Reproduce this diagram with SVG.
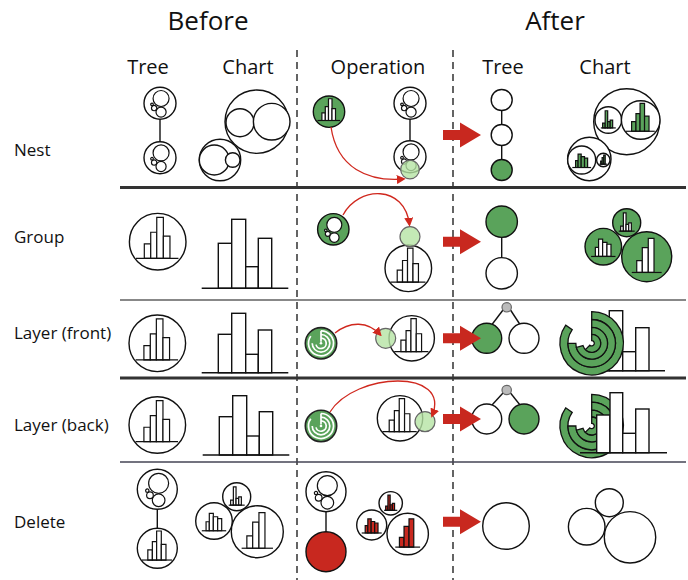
<svg xmlns="http://www.w3.org/2000/svg" width="688" height="580" viewBox="0 0 688 580">
<style>
text{font-family:"Open Sans","Liberation Sans",sans-serif;fill:#111}
.t1{font-size:26px;text-anchor:middle}
.t2{font-size:20px;text-anchor:middle}
.t3{font-size:17px}
.w{fill:#fff;stroke:#111;stroke-width:1.4}
.g{fill:#5aa35b;stroke:#111;stroke-width:1.4}
.rd{fill:#c8281f;stroke:#111;stroke-width:1.4}
.lg{fill:#b5e3a4;fill-opacity:.8;stroke:#666;stroke-width:1.2}
.gy{fill:#bbb;stroke:#666;stroke-width:1.2}
.ln{stroke:#111;stroke-width:1.4;fill:none}
.bar{fill:#fff;stroke:#111;stroke-width:1.4}
.arr{fill:#c8281f}
.cv{fill:none;stroke:#d0281e;stroke-width:1.3;marker-end:url(#ah)}
.dash{stroke:#111;stroke-width:1.3;stroke-dasharray:7 5}
.wa{fill:none;stroke:#fff;stroke-width:1.7}
</style>
<defs>
<marker id="ah" viewBox="0 0 10 10" refX="8" refY="5" markerWidth="9" markerHeight="9" markerUnits="userSpaceOnUse" orient="auto">
<path d="M0,0 L10,5 L0,10 z" fill="#d0281e"/>
</marker>
<g id="cA" stroke="#111" stroke-width="1.2">
<rect x="-14.2" y="2.4" width="6.8" height="15.2" vector-effect="non-scaling-stroke"/>
<rect x="-7.4" y="-10" width="6.4" height="27.6" vector-effect="non-scaling-stroke"/>
<rect x="-1" y="-25.9" width="7" height="43.5" vector-effect="non-scaling-stroke"/>
<rect x="6" y="-6" width="7" height="23.6" vector-effect="non-scaling-stroke"/>
<line x1="-23" y1="17.6" x2="22" y2="17.6" vector-effect="non-scaling-stroke"/>
</g>
<g id="cB" stroke="#111" stroke-width="1.2">
<rect x="-12" y="4.8" width="6.7" height="14.2" vector-effect="non-scaling-stroke"/>
<rect x="-5.3" y="-11" width="7.2" height="30" vector-effect="non-scaling-stroke"/>
<rect x="1.9" y="-22" width="6.9" height="41" vector-effect="non-scaling-stroke"/>
<line x1="-18" y1="19" x2="18" y2="19" vector-effect="non-scaling-stroke"/>
</g>
<g id="cC" stroke="#111" stroke-width="1.2">
<rect x="-13" y="1.2" width="5.3" height="14.8" vector-effect="non-scaling-stroke"/>
<rect x="-7.7" y="-12.4" width="6.6" height="28.4" vector-effect="non-scaling-stroke"/>
<rect x="-1.1" y="-7" width="7.1" height="23" vector-effect="non-scaling-stroke"/>
<rect x="6" y="-4" width="6.6" height="20" vector-effect="non-scaling-stroke"/>
<line x1="-20" y1="16" x2="20" y2="16" vector-effect="non-scaling-stroke"/>
</g>
<g id="cD" stroke="#111" stroke-width="1.2">
<rect x="-12.9" y="7.3" width="5.8" height="10.7" vector-effect="non-scaling-stroke"/>
<rect x="-7.1" y="-21" width="5.7" height="39" vector-effect="non-scaling-stroke"/>
<rect x="-1.4" y="3.7" width="5.7" height="14.3" vector-effect="non-scaling-stroke"/>
<rect x="4.3" y="0.2" width="5.6" height="17.8" vector-effect="non-scaling-stroke"/>
<line x1="-17" y1="18" x2="17" y2="18" vector-effect="non-scaling-stroke"/>
</g>
<g id="cp" fill="#fff" stroke="#111" stroke-width="1.2">
<circle cx="2" cy="-9" r="15" vector-effect="non-scaling-stroke"/>
<circle cx="2" cy="16.5" r="9.5" vector-effect="non-scaling-stroke"/>
<circle cx="-11" cy="9" r="5" vector-effect="non-scaling-stroke"/>
<circle cx="-15" cy="2" r="2.5" vector-effect="non-scaling-stroke"/>
</g>
<g id="sb" fill="#5aa35b" stroke="#111" stroke-width="1.3">
<path d="M 0 -30 A 30 30 0 1 1 -24.57 -17.21 L -18.43 -12.91 A 22.5 22.5 0 1 0 0 -22.5 Z" vector-effect="non-scaling-stroke"/>
<path d="M 0 -22.5 A 22.5 22.5 0 1 1 -22.5 0 L -15 0 A 15 15 0 1 0 0 -15 Z" vector-effect="non-scaling-stroke"/>
<path d="M 0 -15 A 15 15 0 1 1 -14.49 3.88 L -8.21 2.2 A 8.5 8.5 0 1 0 0 -8.5 Z" vector-effect="non-scaling-stroke"/>
<path d="M 0 -8.5 A 8.5 8.5 0 1 1 -6.01 6.01 L -1.77 1.77 A 2.5 2.5 0 1 0 0 -2.5 Z" vector-effect="non-scaling-stroke"/>
</g>
<g id="msb">
<circle r="15.7" fill="#5aa35b" stroke="#222" stroke-width="1.6"/>
<path class="wa" d="M 0 -12.5 A 12.5 12.5 0 1 1 -10.24 -7.17"/>
<path class="wa" d="M 0 -8.8 A 8.8 8.8 0 1 1 -8.8 0"/>
<path class="wa" d="M 0 -5.2 A 5.2 5.2 0 1 1 -5.02 1.35"/>
<path class="wa" d="M 0 -1.6 V -12.5"/>
<circle r="1.3" fill="#fff"/>
</g>
<polygon id="bigarr" points="443,-5 460,-5 460,-12.5 481,0 460,12.5 460,5 443,5"/>
</defs>

<g id="headers">
<text class="t1" x="208" y="30">Before</text>
<text class="t1" x="555" y="30">After</text>
<text class="t2" x="148" y="74">Tree</text>
<text class="t2" x="248" y="74">Chart</text>
<text class="t2" x="378" y="74">Operation</text>
<text class="t2" x="503" y="74">Tree</text>
<text class="t2" x="605" y="74">Chart</text>
<text class="t3" x="14" y="156">Nest</text>
<text class="t3" x="14" y="243">Group</text>
<text class="t3" x="14" y="339">Layer (front)</text>
<text class="t3" x="14" y="431">Layer (back)</text>
<text class="t3" x="14" y="528">Delete</text>
</g>

<g id="grid">
<line class="dash" x1="297" y1="50" x2="297" y2="580"/>
<line class="dash" x1="453" y1="50" x2="453" y2="580"/>
<line x1="120" y1="187.5" x2="686" y2="187.5" stroke="#333" stroke-width="3"/>
<line x1="120" y1="300" x2="686" y2="300" stroke="#888" stroke-width="2"/>
<line x1="120" y1="378" x2="686" y2="378" stroke="#333" stroke-width="3"/>
<line x1="120" y1="462" x2="686" y2="462" stroke="#445" stroke-width="1.5"/>
</g>

<g id="connectors">
<line class="ln" x1="160" y1="119.3" x2="160" y2="141.7"/>
<line class="ln" x1="410" y1="119.3" x2="410" y2="140.7"/>
<line class="ln" x1="501.7" y1="110.5" x2="501.7" y2="124.5"/>
<line class="ln" x1="501.7" y1="145.5" x2="501.7" y2="159.5"/>
<line class="ln" x1="501.7" y1="237.4" x2="501.7" y2="257.6"/>
<line class="ln" x1="503" y1="310" x2="492" y2="324.5"/>
<line class="ln" x1="510.5" y1="310" x2="520" y2="324.5"/>
<line class="ln" x1="503" y1="393" x2="492" y2="405"/>
<line class="ln" x1="510.5" y1="393" x2="520" y2="405"/>
<line class="ln" x1="157.3" y1="509.3" x2="157.3" y2="528.3"/>
<line class="ln" x1="326" y1="511.7" x2="326" y2="531.7"/>
</g>

<g id="nest-before-tree">
<circle class="w" cx="160" cy="103.3" r="16"/>
<use href="#cp" transform="translate(160,103.3) scale(0.533)"/>
<circle class="w" cx="160" cy="157.7" r="16"/>
<use href="#cp" transform="translate(160,157.7) scale(0.533)"/>
</g>
<g id="nest-before-chart">
<circle class="w" cx="256.7" cy="121.7" r="31.7"/>
<circle class="w" cx="240" cy="122.7" r="14"/>
<circle class="w" cx="271.7" cy="121.7" r="18.3"/>
<circle class="w" cx="220" cy="160" r="20.7"/>
<circle class="w" cx="214.3" cy="160" r="15"/>
<circle class="w" cx="232.7" cy="160" r="7.3"/>
</g>
<g id="nest-op">
<circle class="g" cx="329" cy="111.7" r="15.7"/>
<use href="#cA" fill="#fff" transform="translate(329,111.7) scale(0.5)"/>
<circle class="w" cx="410" cy="103.3" r="16"/>
<use href="#cp" transform="translate(410,103.3) scale(0.533)"/>
<circle class="w" cx="410" cy="156.7" r="16"/>
<use href="#cp" transform="translate(410,156.7) scale(0.533)"/>
<circle class="lg" cx="410" cy="169.5" r="9.3"/>
</g>
<g id="nest-after-tree">
<circle class="w" cx="501.7" cy="100" r="10.5"/>
<circle class="w" cx="501.7" cy="135" r="10.5"/>
<circle class="g" cx="501.7" cy="170" r="10.5"/>
</g>
<g id="nest-after-chart">
<circle class="w" cx="626.7" cy="121.7" r="33"/>
<circle class="w" cx="608.3" cy="120" r="13.3"/>
<use href="#cD" fill="#5aa35b" transform="translate(608.3,120) scale(0.44)"/>
<circle class="w" cx="640.7" cy="120" r="19.3"/>
<use href="#cA" fill="#5aa35b" transform="translate(640.7,120) scale(0.64)"/>
<circle class="w" cx="589.3" cy="159" r="21.7"/>
<circle class="w" cx="581.7" cy="160" r="14"/>
<use href="#cC" fill="#5aa35b" transform="translate(581.7,160) scale(0.47)"/>
<circle class="w" cx="603.3" cy="160" r="6.7"/>
<use href="#cB" fill="#5aa35b" transform="translate(603.3,160) scale(0.22)"/>
</g>

<g id="group-before-tree">
<circle class="w" cx="157.7" cy="241.7" r="28.3"/>
<use href="#cA" fill="#fff" transform="translate(157.7,241.7) scale(0.943)"/>
</g>
<g id="group-before-chart">
<rect class="bar" x="218.3" y="243.3" width="13.4" height="45"/>
<rect class="bar" x="231.7" y="219.3" width="14" height="69"/>
<rect class="bar" x="245.7" y="266.7" width="12.6" height="21.6"/>
<rect class="bar" x="258.3" y="238.3" width="13.4" height="50"/>
<line class="ln" x1="201.7" y1="288.3" x2="288.3" y2="288.3"/>
</g>
<g id="group-op">
<circle class="g" cx="333.3" cy="229.3" r="15.7"/>
<use href="#cp" transform="translate(333.3,229.3) scale(0.5)"/>
<circle class="w" cx="408.3" cy="268.3" r="23.3"/>
<use href="#cA" fill="#fff" transform="translate(408.3,268.3) scale(0.78)"/>
<circle class="lg" cx="410" cy="236.7" r="10"/>
</g>
<g id="group-after-tree">
<circle class="g" cx="501.7" cy="221.7" r="15.7"/>
<circle class="w" cx="501.7" cy="273.3" r="15.7"/>
</g>
<g id="group-after-chart">
<circle class="g" cx="603.3" cy="246.7" r="18.3"/>
<use href="#cC" fill="#fff" transform="translate(603.3,246.7) scale(0.61)"/>
<circle class="g" cx="626.7" cy="222.7" r="14"/>
<use href="#cD" fill="#fff" transform="translate(626.7,222.7) scale(0.47)"/>
<circle class="g" cx="646.7" cy="256.7" r="25"/>
<use href="#cB" fill="#fff" transform="translate(646.7,256.7) scale(0.83)"/>
</g>

<g id="front-before-tree">
<circle class="w" cx="157.3" cy="343.3" r="28.3"/>
<use href="#cA" fill="#fff" transform="translate(157.3,343.3) scale(0.943)"/>
</g>
<g id="front-before-chart">
<rect class="bar" x="218.3" y="334.3" width="13.4" height="38.4"/>
<rect class="bar" x="231.7" y="313.3" width="14" height="59.4"/>
<rect class="bar" x="245.7" y="354.3" width="12.6" height="18.4"/>
<rect class="bar" x="258.3" y="330" width="13.4" height="42.7"/>
<line class="ln" x1="201.7" y1="372.7" x2="288.3" y2="372.7"/>
</g>
<g id="front-op">
<use href="#msb" transform="translate(321,343.3)"/>
<circle class="w" cx="411.7" cy="338.3" r="22.7"/>
<use href="#cA" fill="#fff" transform="translate(411.7,338.3) scale(0.76)"/>
<circle class="lg" cx="385.7" cy="338.3" r="10"/>
</g>
<g id="front-after-tree">
<circle class="gy" cx="506.7" cy="307.3" r="4.7"/>
<circle class="g" cx="486.7" cy="338.3" r="15"/>
<circle class="w" cx="524" cy="338.3" r="15"/>
</g>
<g id="front-after-chart">
<rect class="bar" x="596" y="333" width="13.3" height="37.7"/>
<rect class="bar" x="609.3" y="310.7" width="13.4" height="60"/>
<rect class="bar" x="622.7" y="351.7" width="13" height="19"/>
<rect class="bar" x="635.7" y="327.7" width="13.3" height="43"/>
<line class="ln" x1="582" y1="370.7" x2="665" y2="370.7"/>
<use href="#sb" transform="translate(591.7,343.3) scale(1.057)"/>
</g>

<g id="back-before-tree">
<circle class="w" cx="157.3" cy="425" r="28.3"/>
<use href="#cA" fill="#fff" transform="translate(157.3,425) scale(0.943)"/>
</g>
<g id="back-before-chart">
<rect class="bar" x="219.3" y="416.7" width="13.4" height="38.3"/>
<rect class="bar" x="232.7" y="395.7" width="14" height="59.3"/>
<rect class="bar" x="246.7" y="436" width="12.6" height="19"/>
<rect class="bar" x="259.3" y="411.7" width="13.4" height="43.3"/>
<line class="ln" x1="202.7" y1="455" x2="289.3" y2="455"/>
</g>
<g id="back-op">
<use href="#msb" transform="translate(321,426)"/>
<circle class="w" cx="400" cy="418.3" r="22.7"/>
<use href="#cA" fill="#fff" transform="translate(400,418.3) scale(0.76)"/>
<circle class="lg" cx="425" cy="421.7" r="10"/>
</g>
<g id="back-after-tree">
<circle class="gy" cx="506.7" cy="390" r="4.7"/>
<circle class="w" cx="486.7" cy="419" r="15"/>
<circle class="g" cx="524" cy="419" r="15"/>
</g>
<g id="back-after-chart">
<use href="#sb" transform="translate(591.7,426) scale(1.057)"/>
<rect class="bar" x="596.7" y="415" width="13.3" height="37.7"/>
<rect class="bar" x="610" y="392.7" width="12.7" height="60"/>
<rect class="bar" x="622.7" y="433.3" width="13" height="19.4"/>
<rect class="bar" x="635.7" y="409" width="13.3" height="43.7"/>
<line class="ln" x1="580" y1="452.7" x2="667" y2="452.7"/>
</g>

<g id="delete-before-tree">
<circle class="w" cx="157.3" cy="489.3" r="20"/>
<use href="#cp" transform="translate(157.3,489.3) scale(0.667)"/>
<circle class="w" cx="157.3" cy="548.3" r="20"/>
<use href="#cA" fill="#fff" transform="translate(157.3,548.3) scale(0.667)"/>
</g>
<g id="delete-before-chart">
<circle class="w" cx="214" cy="521" r="18.3"/>
<use href="#cC" fill="#fff" transform="translate(214,521) scale(0.61)"/>
<circle class="w" cx="236.7" cy="496.7" r="14"/>
<use href="#cD" fill="#fff" transform="translate(236.7,496.7) scale(0.47)"/>
<circle class="w" cx="257.3" cy="531.7" r="26"/>
<use href="#cB" fill="#fff" transform="translate(257.3,531.7) scale(0.87)"/>
</g>
<g id="delete-op">
<circle class="w" cx="326" cy="491.7" r="20"/>
<use href="#cp" transform="translate(326,491.7) scale(0.667)"/>
<circle class="rd" cx="326" cy="551.7" r="20"/>
<circle class="w" cx="371.7" cy="525" r="15"/>
<use href="#cC" fill="#c8281f" transform="translate(371.7,525) scale(0.5)"/>
<circle class="w" cx="390.7" cy="503.3" r="11.7"/>
<use href="#cD" fill="#c8281f" transform="translate(390.7,503.3) scale(0.39)"/>
<circle class="w" cx="407.7" cy="534" r="20.7"/>
<use href="#cB" fill="#c8281f" transform="translate(407.7,534) scale(0.69)"/>
</g>
<g id="delete-after-tree">
<circle class="w" cx="506" cy="526" r="23.3"/>
</g>
<g id="delete-after-chart">
<circle class="w" cx="586.7" cy="526.7" r="18.3"/>
<circle class="w" cx="609.3" cy="502.7" r="14"/>
<circle class="w" cx="630" cy="537.3" r="25.7"/>
</g>

<g id="op-arrows">
<path class="cv" d="M 331 127 C 337 168, 368 182, 404 179"/>
<path class="cv" d="M 343 215 C 358 186, 405 184, 409.5 225"/>
<path class="cv" d="M 335 333 C 350 321, 368 321, 380.5 335"/>
<path class="cv" d="M 330 412 C 355 372, 452 368, 432 416"/>
<use href="#bigarr" class="arr" transform="translate(0,135)"/>
<use href="#bigarr" class="arr" transform="translate(0,241.7)"/>
<use href="#bigarr" class="arr" transform="translate(0,338.3)"/>
<use href="#bigarr" class="arr" transform="translate(0,419)"/>
<use href="#bigarr" class="arr" transform="translate(0,521.7)"/>
</g>
</svg>
